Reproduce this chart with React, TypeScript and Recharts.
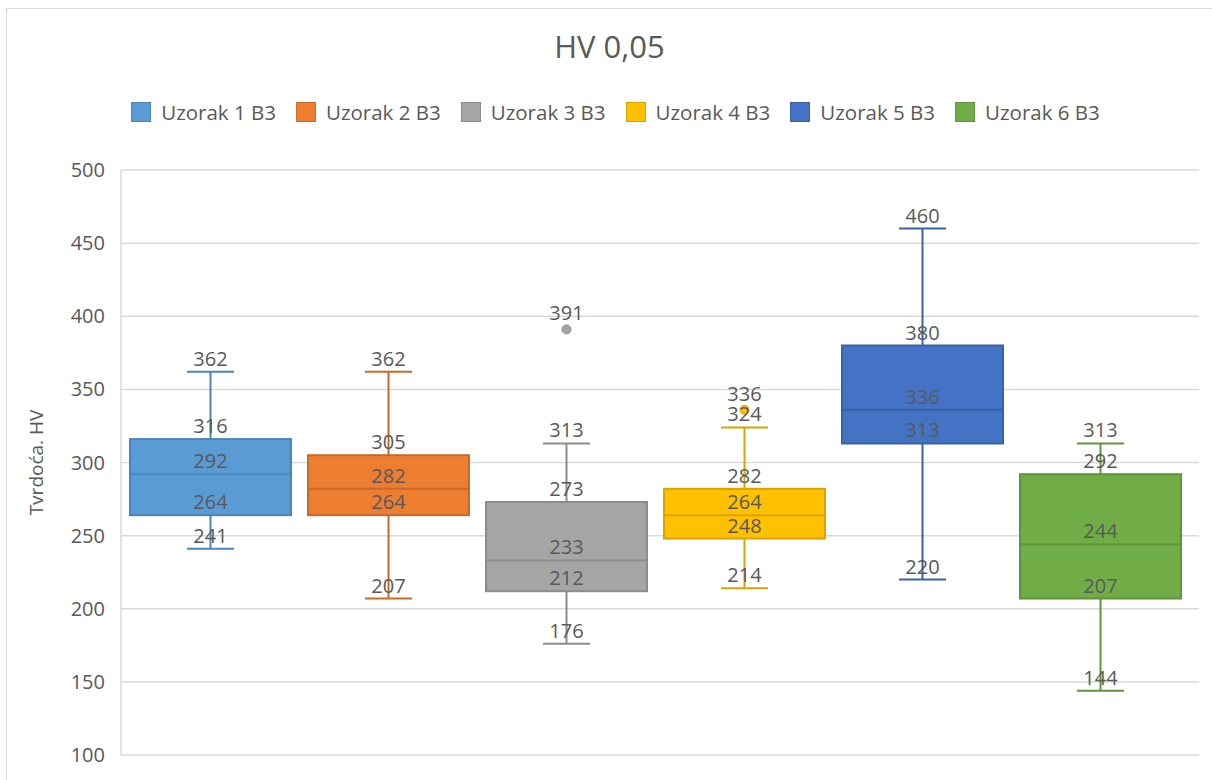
import React from 'react';
import { ComposedChart, Bar, XAxis, YAxis, CartesianGrid, Legend } from 'recharts';

const sampleNames = ['Uzorak 1 B3', 'Uzorak 2 B3', 'Uzorak 3 B3', 'Uzorak 4 B3', 'Uzorak 5 B3', 'Uzorak 6 B3'];
const minValues = [241, 207, 176, 214, 220, 144];
const q1Values = [264, 264, 212, 248, 313, 207];
const medianValues = [292, 282, 233, 264, 336, 244];
const q3Values = [316, 305, 273, 282, 380, 292];
const maxValues = [362, 362, 313, 324, 460, 313];
const outlierValues: number[][] = [[], [], [391], [336], [], []];
const yTicks = [100, 150, 200, 250, 300, 350, 400, 450, 500];

const fillColors = ['#5B9BD5', '#ED7D31', '#A5A5A5', '#FFC000', '#4472C4', '#70AD47'];
const strokeColors = ['#4A84BE', '#C8692A', '#8C8C8C', '#D9A400', '#3A62A8', '#5F933C'];

const FONT = '"Open Sans", sans-serif';
const TEXT = '#595959';

// one category, six series (like the Excel box & whisker)
const data = [
  sampleNames.reduce((row: any, _n, i) => {
    row['s' + i] = [minValues[i], maxValues[i]];
    return row;
  }, { group: 'HV 0,05' }),
];

const BoxShape = (props: any) => {
  const { x, y, width, height, i } = props;
  const top = Math.min(y, y + height);
  const bottom = Math.max(y, y + height);
  const lo = minValues[i];
  const hi = maxValues[i];
  const toY = (v: number) => bottom - ((v - lo) * (bottom - top)) / (hi - lo);
  const cx = x + width / 2;
  const capHalf = 23.5;
  const stroke = strokeColors[i];

  const labelVals = [maxValues[i], q3Values[i], medianValues[i], q1Values[i], minValues[i]];

  return (
    <g>
      <line x1={cx} x2={cx} y1={toY(maxValues[i])} y2={toY(minValues[i])} stroke={stroke} strokeWidth={2} />
      <line x1={cx - capHalf} x2={cx + capHalf} y1={toY(maxValues[i])} y2={toY(maxValues[i])} stroke={stroke} strokeWidth={2} />
      <line x1={cx - capHalf} x2={cx + capHalf} y1={toY(minValues[i])} y2={toY(minValues[i])} stroke={stroke} strokeWidth={2} />
      <rect
        x={x}
        y={toY(q3Values[i])}
        width={width}
        height={toY(q1Values[i]) - toY(q3Values[i])}
        fill={fillColors[i]}
        stroke={stroke}
        strokeWidth={2}
      />
      <line x1={x} x2={x + width} y1={toY(medianValues[i])} y2={toY(medianValues[i])} stroke={stroke} strokeWidth={2} />
      {outlierValues[i].map((v, k) => (
        <circle key={'o' + k} cx={cx} cy={toY(v)} r={4.5} fill={fillColors[i]} stroke={stroke} strokeWidth={1} />
      ))}
      {labelVals.map((v, k) => (
        <text key={'l' + k} x={cx} y={toY(v) - 6} textAnchor="middle" fontSize={20} fontFamily={FONT} fill={TEXT}>
          {v}
        </text>
      ))}
      {outlierValues[i].map((v, k) => (
        <text key={'ol' + k} x={cx} y={toY(v) - 9} textAnchor="middle" fontSize={20} fontFamily={FONT} fill={TEXT}>
          {v}
        </text>
      ))}
    </g>
  );
};

const LegendContent = (props: any) => {
  const { payload } = props;
  return (
    <div
      style={{
        display: 'flex',
        justifyContent: 'center',
        gap: 20,
        fontFamily: FONT,
        fontSize: 20.5,
        color: TEXT,
        paddingLeft: 12,
      }}
    >
      {(payload || []).map((item: any, k: number) => (
        <div key={k} style={{ display: 'flex', alignItems: 'center' }}>
          <span
            style={{
              width: 18,
              height: 18,
              background: fillColors[k],
              border: '1px solid ' + strokeColors[k],
              marginRight: 10,
              display: 'inline-block',
            }}
          />
          <span>{item.value}</span>
        </div>
      ))}
    </div>
  );
};

const App: React.FC = () => {
  return (
    <div
      style={{
        position: 'absolute',
        left: 6,
        top: 8,
        width: 1206,
        height: 772,
        boxSizing: 'border-box',
        borderTop: '1px solid #d9d9d9',
        borderLeft: '1px solid #d9d9d9',
        background: '#fff',
        overflow: 'hidden',
      }}
    >
      <div
        style={{
          position: 'absolute',
          top: 16,
          left: 0,
          width: 1205,
          textAlign: 'center',
          fontFamily: FONT,
          fontSize: 31,
          color: TEXT,
          zIndex: 2,
        }}
      >
        HV 0,05
      </div>
      <ComposedChart
        width={1205}
        height={771}
        data={data}
        margin={{ top: 161, right: 13, bottom: 25, left: 0 }}
        barGap={17}
      >
        <CartesianGrid vertical={false} stroke="#d9d9d9" strokeWidth={1.5} />
        <XAxis dataKey="group" hide padding={{ left: 0, right: 10 }} />
        <YAxis
          domain={[100, 500]}
          ticks={yTicks}
          width={114}
          axisLine={{ stroke: '#d9d9d9', strokeWidth: 1.5 }}
          tickLine={false}
          tickMargin={10}
          tick={{ fill: TEXT, fontSize: 20, fontFamily: FONT }}
          label={{
            value: 'Tvrdoća. HV',
            angle: -90,
            position: 'center',
            dx: -28,
            style: { fill: TEXT, fontSize: 19, fontFamily: FONT },
          }}
        />
        <Legend
          verticalAlign="middle"
          layout="horizontal"
          content={<LegendContent />}
          wrapperStyle={{ top: 89, left: 0, width: 1205 }}
        />
        {sampleNames.map((name, i) => (
          <Bar
            key={name}
            dataKey={'s' + i}
            name={name}
            fill={fillColors[i]}
            barSize={161}
            isAnimationActive={false}
            shape={(p: any) => <BoxShape {...p} i={i} />}
          />
        ))}
      </ComposedChart>
    </div>
  );
};

export default App;
